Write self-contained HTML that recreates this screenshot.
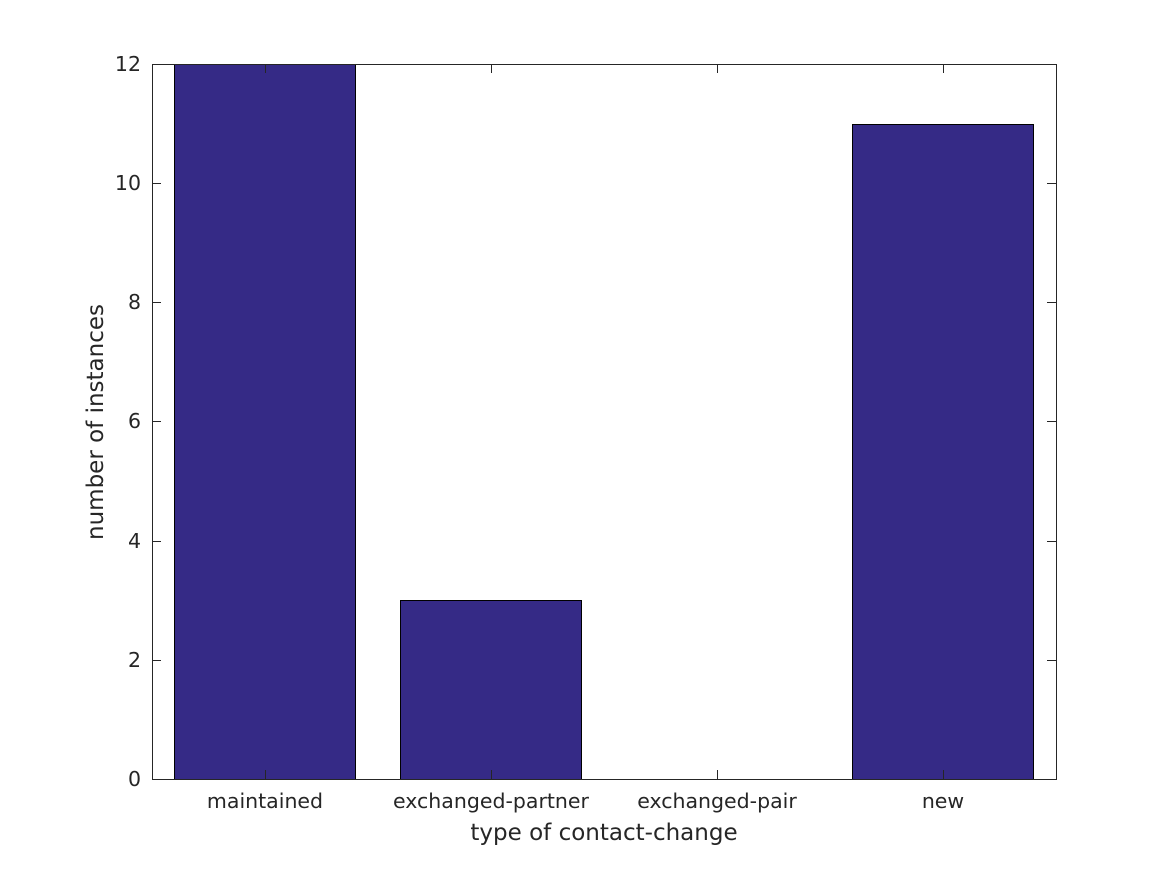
<!DOCTYPE html>
<html><head><meta charset="utf-8"><style>body{margin:0;background:#fff}svg{display:block}</style></head>
<body>
<svg width="1167" height="875" xmlns="http://www.w3.org/2000/svg" font-family="DejaVu Sans, Liberation Sans, sans-serif" fill="#262626">
<rect width="1167" height="875" fill="#fff"/>
<g fill="#352a86" stroke="#000" stroke-width="1">
<rect x="174.5" y="64.5" width="181" height="715"/>
<rect x="400.5" y="600.5" width="181" height="179"/>
<rect x="852.5" y="124.5" width="181" height="655"/>
</g>
<rect x="152.5" y="64.5" width="904" height="715" fill="none" stroke="#262626" stroke-width="1"/>
<g stroke="#262626" stroke-width="1">
<path d="M265.5 779V770M491.5 779V770M717.5 779V770M943.5 779V770M265.5 64V73M491.5 64V73M717.5 64V73M943.5 64V73"/>
<path d="M152 779.5h9M152 660.5h9M152 541.5h9M152 421.5h9M152 302.5h9M152 183.5h9M152 64.5h9M1056 779.5h-9M1056 660.5h-9M1056 541.5h-9M1056 421.5h-9M1056 302.5h-9M1056 183.5h-9M1056 64.5h-9"/>
</g>
<g font-size="20.5" text-anchor="end">
<text x="141" y="786">0</text><text x="141" y="667">2</text><text x="141" y="548">4</text><text x="141" y="428">6</text><text x="141" y="309">8</text><text x="141" y="190">10</text><text x="141" y="71">12</text>
</g>
<g font-size="20.5" text-anchor="middle">
<text x="265" y="808">maintained</text><text x="491" y="808">exchanged-partner</text><text x="717" y="808">exchanged-pair</text><text x="943" y="808">new</text>
</g>
<text x="604" y="840" font-size="23" text-anchor="middle">type of contact-change</text>
<text transform="translate(103 422) rotate(-90)" font-size="23" text-anchor="middle">number of instances</text>
</svg>
</body></html>
